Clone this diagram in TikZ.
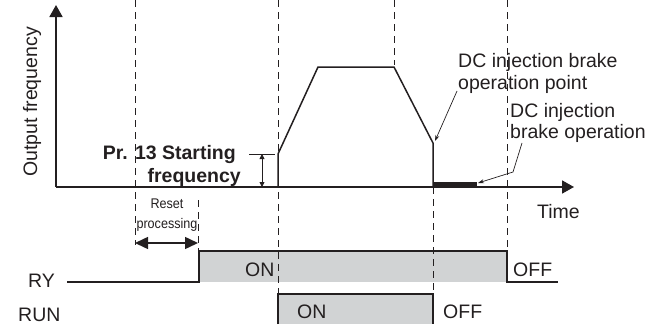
\documentclass[tikz,border=0pt]{standalone}
\usepackage{fontspec}
\setmainfont{Liberation Sans}
\newfontfamily\narrowfont[FakeStretch=0.9]{Liberation Sans}
\usetikzlibrary{arrows.meta}
\definecolor{ink}{RGB}{35,31,32}
\definecolor{onfill}{RGB}{209,211,212}

\begin{document}
\begin{tikzpicture}[x=1pt, y=-1pt, ink, font=\fontsize{19.5}{22}\selectfont,
  axis/.style={line width=1.8pt, -{Triangle[length=12pt,width=13pt]}},
  guide/.style={line width=0.8pt, dash pattern=on 7pt off 5pt},
  signal/.style={line width=1.3pt},
  lbl/.style={anchor=base west, inner sep=0pt},
  pointer/.style={line width=0.7pt, -{Stealth[length=6pt,width=4pt]}}]
  \useasboundingbox (0,0) rectangle (661,324);
  \fill[onfill] (199,251) rectangle (507,282);
  \fill[onfill] (278,294) rectangle (433,324);
  \draw[guide] (135,0) -- (135,245);
  \draw[guide] (198,200) -- (198,250);
  \draw[guide] (278,0) -- (278,294);
  \draw[guide] (394,0) -- (394,65);
  \draw[guide] (433,187) -- (433,324);
  \draw[guide] (507,0) -- (507,251);
  \coordinate (o) at (56,187);
  \coordinate (ytop) at (56,5);
  \coordinate (xend) at (574,187);
  \draw[axis] (o) -- (ytop);
  \draw[axis] (o) -- (xend);
  \node[rotate=90] (ylbl) at (32,102) {Output frequency};
  \node[lbl] (tlbl) at (537,218) {Time};
  \coordinate (f0) at (278,187);
  \coordinate (f1) at (278,154);
  \coordinate (f2) at (318,67);
  \coordinate (f3) at (394,67);
  \coordinate (f4) at (433,143);
  \coordinate (f5) at (433,187);
  \draw[line width=1.5pt, line join=miter] (f0) -- (f1) -- (f2) -- (f3) -- (f4) -- (f5);
  \draw[line width=5pt] (433,184.5) -- (477,184.5);
  \coordinate (sfa) at (249,154);
  \coordinate (sfb) at (275,154);
  \draw[line width=0.8pt] (sfa) -- (sfb);
  \draw[line width=0.8pt, {Triangle[length=5pt,width=5pt]}-{Triangle[length=5pt,width=5pt]}] (262,154) -- (262,187);
  \node[lbl, anchor=base east, font=\fontsize{19.5}{22}\selectfont\bfseries] (sf1) at (236,159) {Pr. 13 Starting};
  \node[lbl, anchor=base east, font=\fontsize{19.5}{22}\selectfont\bfseries] (sf2) at (241,182) {frequency};
  \node[lbl] (bp1) at (458,67) {DC injection brake};
  \node[lbl] (bp2) at (458,89) {operation point};
  \node[lbl] (bo1) at (510,117) {DC injection};
  \node[lbl] (bo2) at (510,138) {brake operation};
  \coordinate (bpa) at (457,91);
  \coordinate (bpb) at (435,141);
  \draw[pointer] (bpa) -- (bpb);
  \coordinate (boa) at (522,143);
  \coordinate (bob) at (513,172);
  \coordinate (boc) at (478,183);
  \draw[pointer] (boa) -- (bob) -- (boc);
  \node[font=\narrowfont\fontsize{14}{16}\selectfont, anchor=base] (rs1) at (167,208) {Reset};
  \node[font=\narrowfont\fontsize{14}{16}\selectfont, anchor=base] (rs2) at (167,228) {processing};
  \coordinate (rsa) at (135,243);
  \coordinate (rsb) at (198,243);
  \draw[line width=1.5pt, {Triangle[length=13pt,width=12pt]}-{Triangle[length=13pt,width=12pt]}] (rsa) -- (rsb);
  \node[lbl] (ry) at (28,287) {RY};
  \node[lbl] (run) at (18,321) {RUN};
  \draw[signal] (67,282) -- (199,282) -- (199,251) -- (507,251) -- (507,282) -- (558,282);
  \draw[signal] (278,324) -- (278,294) -- (433,294) -- (433,324);
  \node[lbl] (ryon) at (245,276) {ON};
  \node[lbl] (ryoff) at (513,276) {OFF};
  \node[lbl] (runon) at (297,318) {ON};
  \node[lbl] (runoff) at (443,318) {OFF};
\end{tikzpicture}
\end{document}
